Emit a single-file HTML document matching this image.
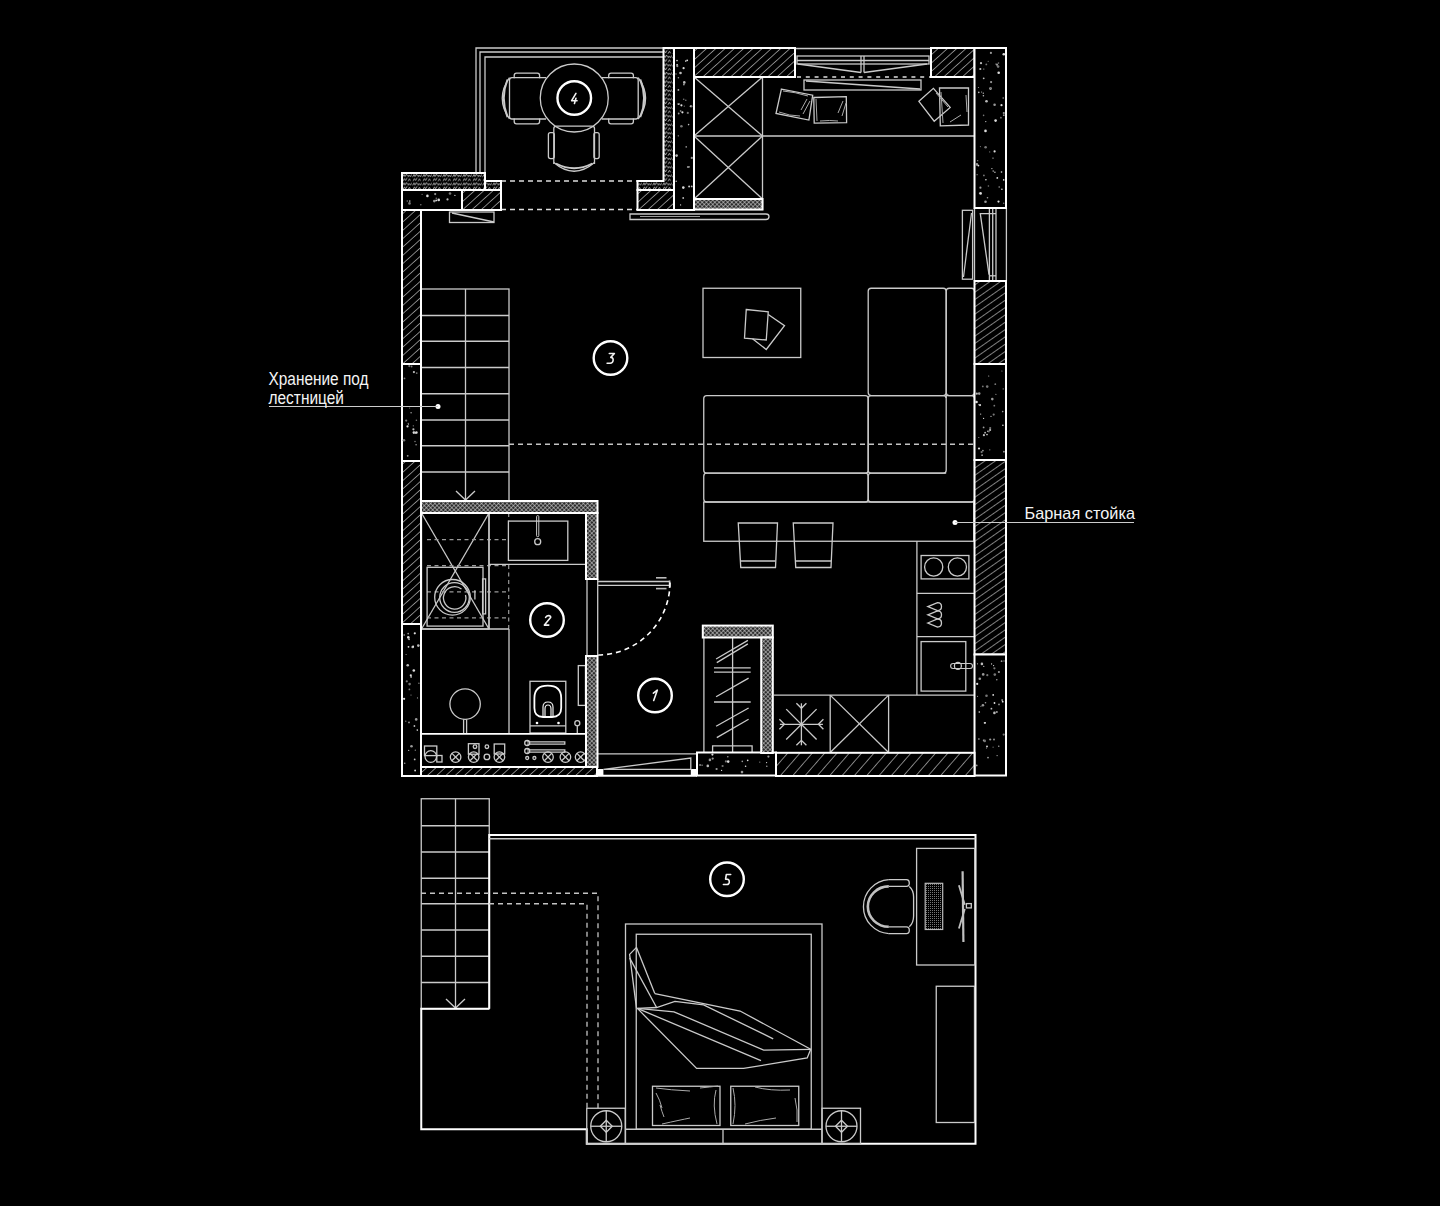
<!DOCTYPE html>
<html><head><meta charset="utf-8"><style>
html,body{margin:0;padding:0;background:#000;width:1440px;height:1206px;overflow:hidden}
svg{display:block}
</style></head><body>
<svg width="1440" height="1206" viewBox="0 0 1440 1206">
<rect width="1440" height="1206" fill="#000"/>
<defs>
<pattern id="hatch" patternUnits="userSpaceOnUse" width="6.2" height="6.2" patternTransform="rotate(48)">
<rect width="6.2" height="6.2" fill="#000"/><line x1="0" y1="0" x2="0" y2="6.2" stroke="#c4c4c4" stroke-width="1.3"/></pattern>
<pattern id="hatchR" patternUnits="userSpaceOnUse" width="6" height="6" patternTransform="rotate(55)">
<rect width="6" height="6" fill="#000"/><line x1="0" y1="0" x2="0" y2="6" stroke="#c4c4c4" stroke-width="1.3"/></pattern>
<pattern id="hatchB" patternUnits="userSpaceOnUse" width="9.3" height="9.3" patternTransform="rotate(41)">
<rect width="9.3" height="9.3" fill="#000"/><line x1="0" y1="0" x2="0" y2="9.3" stroke="#c4c4c4" stroke-width="1.3"/></pattern>
<pattern id="xh" patternUnits="userSpaceOnUse" width="3" height="3" patternTransform="rotate(45)">
<rect width="3" height="3" fill="#2a2a2a"/><path d="M0,0 V3 M0,0 H3" stroke="#e6e6e6" stroke-width="1"/></pattern>
<pattern id="wavy" patternUnits="userSpaceOnUse" width="10" height="8.5" x="402" y="173">
<rect width="10" height="8.5" fill="#000"/><path d="M0.5,4 L2,1.5 L3,3.5 L4.5,1 L5.5,3 M6,4 L7,2 L8.5,3.8 L9.5,1.5 M1,8 L2.5,5.5 L3.5,7.5 L5,5 M6,8.2 L7.5,5.8 L8.5,7.8" stroke="#b0b0b0" stroke-width="0.9" fill="none"/></pattern>
<pattern id="kb" patternUnits="userSpaceOnUse" width="2" height="2">
<rect width="2" height="2" fill="#000"/><rect width="1" height="1" fill="#777"/></pattern>
</defs>
<polyline points="476,173 476,48 664,48" stroke="#cacaca" stroke-width="1.3" fill="none" />
<polyline points="480,173 480,52 664,52" stroke="#cacaca" stroke-width="1.3" fill="none" />
<polyline points="485,173 485,57 664,57" stroke="#cacaca" stroke-width="1.3" fill="none" />
<line x1="501" y1="181" x2="637" y2="181" stroke="#ddd" stroke-width="1.5" stroke-dasharray="5,4" />
<line x1="501" y1="209.5" x2="637" y2="209.5" stroke="#ddd" stroke-width="1.5" stroke-dasharray="5,4" />
<rect x="694" y="77" width="68.5" height="132.5" stroke="#cacaca" stroke-width="1.3" fill="none" />
<line x1="694" y1="136" x2="762.5" y2="136" stroke="#cacaca" stroke-width="1.3" fill="none" />
<line x1="694" y1="77" x2="762.5" y2="136" stroke="#cacaca" stroke-width="1.3" fill="none" />
<line x1="762.5" y1="77" x2="694" y2="136" stroke="#cacaca" stroke-width="1.3" fill="none" />
<line x1="694" y1="136" x2="762.5" y2="199" stroke="#cacaca" stroke-width="1.3" fill="none" />
<line x1="762.5" y1="136" x2="694" y2="199" stroke="#cacaca" stroke-width="1.3" fill="none" />
<line x1="795" y1="48.5" x2="931" y2="48.5" stroke="#cacaca" stroke-width="1.3" fill="none" />
<rect x="797" y="56" width="132" height="8" stroke="#cacaca" stroke-width="1.3" fill="none" />
<line x1="797" y1="60.5" x2="929" y2="60.5" stroke="#cacaca" stroke-width="1.3" fill="none" />
<polyline points="798,64 861,72.5" stroke="#cacaca" stroke-width="1.3" fill="none" />
<polyline points="864,72.5 927,64" stroke="#cacaca" stroke-width="1.3" fill="none" />
<line x1="861" y1="56" x2="861" y2="72.5" stroke="#cacaca" stroke-width="1.3" fill="none" />
<line x1="864" y1="56" x2="864" y2="72.5" stroke="#cacaca" stroke-width="1.3" fill="none" />
<line x1="797" y1="77" x2="931" y2="77" stroke="#ddd" stroke-width="1.4" stroke-dasharray="4,4.8" />
<rect x="804" y="80" width="117" height="10" stroke="#cacaca" stroke-width="1.3" fill="none" />
<line x1="806" y1="81" x2="920" y2="89" stroke="#cacaca" stroke-width="1.3" fill="none" />
<line x1="762.5" y1="136" x2="974.5" y2="136" stroke="#cacaca" stroke-width="1.3" fill="none" />
<path d="M630,214 H766 Q769,214 769,216.5 Q769,219.5 766,219.5 H630 Z" stroke="#cacaca" stroke-width="1.3" fill="none" />
<line x1="640" y1="216.5" x2="700" y2="216.5" stroke="#999" stroke-width="1" />
<rect x="449.5" y="212" width="44.5" height="10.5" stroke="#cacaca" stroke-width="1.3" fill="none" />
<line x1="452" y1="213" x2="494" y2="222" stroke="#cacaca" stroke-width="1.3" fill="none" />
<rect x="962.4" y="210.3" width="10.200000000000045" height="68.89999999999998" stroke="#cacaca" stroke-width="1.3" fill="none" />
<line x1="971.5" y1="213" x2="963.5" y2="277" stroke="#cacaca" stroke-width="1.3" fill="none" />
<line x1="974.5" y1="208" x2="974.5" y2="281" stroke="#cacaca" stroke-width="1.3" fill="none" />
<line x1="1006.4" y1="208" x2="1006.4" y2="281" stroke="#cacaca" stroke-width="1.3" fill="none" />
<polyline points="996,213.7 980.3,213.7 989,274.6" stroke="#cacaca" stroke-width="1.3" fill="none" />
<line x1="989.4" y1="209" x2="989.4" y2="280" stroke="#cacaca" stroke-width="1.3" fill="none" />
<line x1="992.7" y1="209" x2="992.7" y2="280" stroke="#cacaca" stroke-width="1.3" fill="none" />
<line x1="996" y1="209" x2="996" y2="280" stroke="#cacaca" stroke-width="1.3" fill="none" />
<line x1="989.4" y1="275.8" x2="996" y2="275.8" stroke="#cacaca" stroke-width="1.3" fill="none" />
<line x1="597" y1="775.7" x2="697" y2="775.7" stroke="#fff" stroke-width="2" />
<rect x="597" y="769" width="6.399999999999977" height="7" fill="#fff" stroke="none" />
<rect x="690.8" y="769" width="6.2000000000000455" height="7" fill="#fff" stroke="none" />
<polyline points="603.4,769.3 690.8,758.1 690.8,769.3 603.4,769.3" stroke="#cacaca" stroke-width="1.3" fill="none" />
<line x1="597" y1="753.8" x2="697" y2="753.8" stroke="#cacaca" stroke-width="1.3" fill="none" />
<line x1="597.5" y1="581.5" x2="669.6" y2="581.5" stroke="#cacaca" stroke-width="1.3" fill="none" />
<line x1="597.5" y1="585.3" x2="669.6" y2="585.3" stroke="#cacaca" stroke-width="1.3" fill="none" />
<line x1="669.6" y1="580.5" x2="669.6" y2="588" stroke="#cacaca" stroke-width="1.6" />
<line x1="656" y1="577.8" x2="666.5" y2="577.8" stroke="#bbb" stroke-width="1.6" />
<line x1="656" y1="588.6" x2="666.5" y2="588.6" stroke="#bbb" stroke-width="1.6" />
<path d="M670,582.5 A72.5,72.5 0 0 1 597.5,655" stroke="#fff" stroke-width="1.6" fill="none" stroke-dasharray="5,4" />
<line x1="587" y1="579" x2="587" y2="656" stroke="#cacaca" stroke-width="1.3" fill="none" />
<line x1="597.7" y1="579" x2="597.7" y2="656" stroke="#cacaca" stroke-width="1.3" fill="none" />
<rect x="421.5" y="513" width="67.5" height="116" stroke="#cacaca" stroke-width="1.3" fill="none" />
<line x1="421.5" y1="513" x2="489" y2="629" stroke="#cacaca" stroke-width="1.3" fill="none" />
<line x1="489" y1="513" x2="421.5" y2="629" stroke="#cacaca" stroke-width="1.3" fill="none" />
<line x1="427" y1="539.6" x2="507" y2="539.6" stroke="#9a9a9a" stroke-width="1.2" stroke-dasharray="4,3.5" />
<line x1="427" y1="565.7" x2="509" y2="565.7" stroke="#9a9a9a" stroke-width="1.2" stroke-dasharray="4,3.5" />
<line x1="427" y1="591.8" x2="509" y2="591.8" stroke="#9a9a9a" stroke-width="1.2" stroke-dasharray="4,3.5" />
<line x1="427" y1="617.8" x2="509" y2="617.8" stroke="#9a9a9a" stroke-width="1.2" stroke-dasharray="4,3.5" />
<line x1="508.7" y1="565" x2="508.7" y2="629" stroke="#9a9a9a" stroke-width="1.2" stroke-dasharray="4,3.5" />
<line x1="508.7" y1="513" x2="508.7" y2="521" stroke="#9a9a9a" stroke-width="1.2" stroke-dasharray="4,3.5" />
<rect x="427.1" y="567.3" width="55.89999999999998" height="58.80000000000007" stroke="#cacaca" stroke-width="1.3" fill="none" />
<circle cx="452.5" cy="597.3" r="17.8" stroke="#cacaca" stroke-width="1.3" fill="none" />
<circle cx="454.5" cy="597.5" r="14.8" stroke="#cacaca" stroke-width="1.3" fill="none" />
<path d="M461.5,589 A11.2,11.2 0 1 0 465.5,595" stroke="#cacaca" stroke-width="1.3" fill="none" />
<line x1="474.9" y1="590.3" x2="474.9" y2="599.5" stroke="#cacaca" stroke-width="1.3" fill="none" />
<rect x="482.6" y="578.9" width="3.0" height="35.0" stroke="#cacaca" stroke-width="1.3" fill="none" />
<rect x="508.4" y="521.1" width="59.39999999999998" height="39.299999999999955" stroke="#cacaca" stroke-width="1.3" fill="none" />
<rect x="536.6" y="515.6" width="2.199999999999932" height="21.100000000000023" stroke="#cacaca" stroke-width="1" fill="none" rx="1" />
<circle cx="537.7" cy="541.7" r="3" stroke="#cacaca" stroke-width="1.3" fill="none" />
<line x1="489" y1="564.4" x2="586.5" y2="564.4" stroke="#cacaca" stroke-width="1.3" fill="none" />
<line x1="421" y1="629" x2="509" y2="629" stroke="#cacaca" stroke-width="1.3" fill="none" />
<line x1="509" y1="629" x2="509" y2="733" stroke="#cacaca" stroke-width="1.3" fill="none" />
<line x1="489" y1="513" x2="489" y2="629" stroke="#cacaca" stroke-width="1.3" fill="none" />
<circle cx="465.1" cy="704.1" r="15.2" stroke="#cacaca" stroke-width="1.3" fill="none" />
<line x1="463.6" y1="719.3" x2="463.6" y2="733" stroke="#cacaca" stroke-width="1.3" fill="none" />
<line x1="466.6" y1="719.3" x2="466.6" y2="733" stroke="#cacaca" stroke-width="1.3" fill="none" />
<rect x="530" y="681.3" width="35.799999999999955" height="51.700000000000045" stroke="#cacaca" stroke-width="1.3" fill="none" />
<path d="M534.4,698 Q534.4,685.6 547.8,685.6 Q561.2,685.6 561.2,698 V708 Q561.2,717 552,717 H543 Q534.4,717 534.4,708 Z" stroke="#fff" stroke-width="1.8" fill="none" />
<path d="M543,716 V707 Q543,702 548,702 Q553,702 553,707 V716 M545,716 V709 Q545,705 548,705 Q551,705 551,709 V716" stroke="#eee" stroke-width="1.2" fill="none" />
<line x1="530" y1="725.9" x2="565.8" y2="725.9" stroke="#cacaca" stroke-width="1.3" fill="none" />
<circle cx="537" cy="723" r="1.3" fill="#fff"/><circle cx="558.5" cy="723" r="1.3" fill="#fff"/>
<rect x="578.3" y="665.6" width="7.2000000000000455" height="39.799999999999955" stroke="#cacaca" stroke-width="1.3" fill="none" />
<circle cx="577.3" cy="723.2" r="2.5" stroke="#cacaca" stroke-width="1.3" fill="none" />
<line x1="577.3" y1="725.7" x2="577.3" y2="733" stroke="#cacaca" stroke-width="1.3" fill="none" />
<line x1="421" y1="733.8" x2="586.5" y2="733.8" stroke="#fff" stroke-width="1.8" />
<line x1="421" y1="767.2" x2="586.5" y2="767.2" stroke="#fff" stroke-width="1.8" />
<circle cx="455.6" cy="757.1" r="5.3" stroke="#cacaca" stroke-width="1.3" fill="none" />
<line x1="451.90000000000003" y1="753.4" x2="459.3" y2="760.8" stroke="#cacaca" stroke-width="1.3" fill="none" />
<line x1="459.3" y1="753.4" x2="451.90000000000003" y2="760.8" stroke="#cacaca" stroke-width="1.3" fill="none" />
<circle cx="473.7" cy="757.1" r="5.3" stroke="#cacaca" stroke-width="1.3" fill="none" />
<line x1="470.0" y1="753.4" x2="477.4" y2="760.8" stroke="#cacaca" stroke-width="1.3" fill="none" />
<line x1="477.4" y1="753.4" x2="470.0" y2="760.8" stroke="#cacaca" stroke-width="1.3" fill="none" />
<circle cx="499.4" cy="757.1" r="5.3" stroke="#cacaca" stroke-width="1.3" fill="none" />
<line x1="495.7" y1="753.4" x2="503.09999999999997" y2="760.8" stroke="#cacaca" stroke-width="1.3" fill="none" />
<line x1="503.09999999999997" y1="753.4" x2="495.7" y2="760.8" stroke="#cacaca" stroke-width="1.3" fill="none" />
<circle cx="548" cy="757.1" r="5.3" stroke="#cacaca" stroke-width="1.3" fill="none" />
<line x1="544.3" y1="753.4" x2="551.7" y2="760.8" stroke="#cacaca" stroke-width="1.3" fill="none" />
<line x1="551.7" y1="753.4" x2="544.3" y2="760.8" stroke="#cacaca" stroke-width="1.3" fill="none" />
<circle cx="565.4" cy="757.1" r="5.3" stroke="#cacaca" stroke-width="1.3" fill="none" />
<line x1="561.6999999999999" y1="753.4" x2="569.1" y2="760.8" stroke="#cacaca" stroke-width="1.3" fill="none" />
<line x1="569.1" y1="753.4" x2="561.6999999999999" y2="760.8" stroke="#cacaca" stroke-width="1.3" fill="none" />
<circle cx="580.6" cy="757.1" r="5.3" stroke="#cacaca" stroke-width="1.3" fill="none" />
<line x1="576.9" y1="753.4" x2="584.3000000000001" y2="760.8" stroke="#cacaca" stroke-width="1.3" fill="none" />
<line x1="584.3000000000001" y1="753.4" x2="576.9" y2="760.8" stroke="#cacaca" stroke-width="1.3" fill="none" />
<rect x="424.5" y="746" width="12.300000000000011" height="9.600000000000023" stroke="#cacaca" stroke-width="1.3" fill="none" />
<circle cx="430.8" cy="756.5" r="5.8" stroke="#cacaca" stroke-width="1.3" fill="none" />
<rect x="436.8" y="755.5" width="5.199999999999989" height="6.5" stroke="#cacaca" stroke-width="1.3" fill="none" />
<rect x="468.4" y="743.7" width="10.600000000000023" height="10.5" stroke="#cacaca" stroke-width="1.3" fill="none" />
<circle cx="475" cy="746.7" r="1.8" stroke="#cacaca" stroke-width="1.3" fill="none" />
<rect x="494.2" y="744" width="10.5" height="10" stroke="#cacaca" stroke-width="1.3" fill="none" />
<circle cx="486.9" cy="746.7" r="1.8" stroke="#cacaca" stroke-width="1.3" fill="none" />
<circle cx="486.9" cy="756.9" r="2.8" stroke="#cacaca" stroke-width="1.3" fill="none" />
<path d="M527.2,741.8 H564.8 V744.2 H527.2 M527.2,749.8 H564.8 V752.2 H527.2" stroke="#cacaca" stroke-width="1.3" fill="none" />
<circle cx="527.2" cy="743" r="2.5" stroke="#cacaca" stroke-width="1.3" fill="none" />
<circle cx="527.2" cy="751" r="2.5" stroke="#cacaca" stroke-width="1.3" fill="none" />
<circle cx="527.2" cy="758" r="1.5" stroke="#cacaca" stroke-width="1.3" fill="none" />
<circle cx="534.4" cy="758" r="1.5" stroke="#cacaca" stroke-width="1.3" fill="none" />
<rect x="421" y="289" width="88" height="212" stroke="#cacaca" stroke-width="1.3" fill="none" />
<line x1="465.5" y1="289" x2="465.5" y2="500" stroke="#cacaca" stroke-width="1.3" fill="none" />
<line x1="421" y1="315.5" x2="509" y2="315.5" stroke="#cacaca" stroke-width="1.3" fill="none" />
<line x1="421" y1="341.25" x2="509" y2="341.25" stroke="#cacaca" stroke-width="1.3" fill="none" />
<line x1="421" y1="367.5" x2="509" y2="367.5" stroke="#cacaca" stroke-width="1.3" fill="none" />
<line x1="421" y1="393.75" x2="509" y2="393.75" stroke="#cacaca" stroke-width="1.3" fill="none" />
<line x1="421" y1="420" x2="509" y2="420" stroke="#cacaca" stroke-width="1.3" fill="none" />
<line x1="421" y1="445.75" x2="509" y2="445.75" stroke="#cacaca" stroke-width="1.3" fill="none" />
<line x1="421" y1="472" x2="509" y2="472" stroke="#cacaca" stroke-width="1.3" fill="none" />
<polyline points="456,491 465.5,500 475,491" stroke="#cacaca" stroke-width="1.3" fill="none" />
<line x1="509" y1="444.25" x2="974" y2="444.25" stroke="#c4c4c4" stroke-width="1.3" stroke-dasharray="5,4" />
<rect x="703" y="288.25" width="97.75" height="69.25" stroke="#cacaca" stroke-width="1.3" fill="none" />
<polygon points="746.25,309.5 768.25,311.75 766.25,340 744.5,338.25" stroke="#cacaca" stroke-width="1.3" fill="none" />
<polyline points="768.25,314.5 784.5,325.75 766.25,349.5 752.5,338.75" stroke="#cacaca" stroke-width="1.3" fill="none" />
<rect x="868.2" y="288.25" width="78.0" height="107.35000000000002" stroke="#cacaca" stroke-width="1.3" fill="none" rx="3"/>
<rect x="946.2" y="288.25" width="28.299999999999955" height="107.35000000000002" stroke="#cacaca" stroke-width="1.3" fill="none" rx="3"/>
<rect x="703.75" y="395.6" width="164.45000000000005" height="77.59999999999997" stroke="#cacaca" stroke-width="1.3" fill="none" rx="3"/>
<rect x="868.2" y="395.6" width="78.0" height="77.59999999999997" stroke="#cacaca" stroke-width="1.3" fill="none" rx="3"/>
<rect x="703.75" y="473.2" width="164.45000000000005" height="28.80000000000001" stroke="#cacaca" stroke-width="1.3" fill="none" rx="3"/>
<path d="M946.2,398 V395.6 H971.5 Q974.5,395.6 974.5,398.6 V499 Q974.5,502 971.5,502 H871.2 Q868.2,502 868.2,499 V476.2 Q868.2,473.2 871.2,473.2 H946.2" stroke="#cacaca" stroke-width="1.3" fill="none" />
<rect x="703.75" y="502" width="270.0" height="39.25" stroke="#cacaca" stroke-width="1.3" fill="none" />
<polygon points="738.25,523 777.5,523 775.5,567.5 740.75,567.5" stroke="#cacaca" stroke-width="1.3" fill="none" />
<line x1="740.5" y1="561" x2="775.5" y2="561" stroke="#cacaca" stroke-width="1.3" fill="none" />
<polygon points="793.25,523 833,523 831,567.5 795.75,567.5" stroke="#cacaca" stroke-width="1.3" fill="none" />
<line x1="795.5" y1="561" x2="831" y2="561" stroke="#cacaca" stroke-width="1.3" fill="none" />
<line x1="916.9" y1="541" x2="916.9" y2="695.1" stroke="#cacaca" stroke-width="1.3" fill="none" />
<rect x="921.1" y="555.5" width="47.799999999999955" height="23.399999999999977" stroke="#cacaca" stroke-width="1.3" fill="none" />
<circle cx="933.7" cy="567" r="9.1" stroke="#cacaca" stroke-width="1.3" fill="none" />
<circle cx="957.4" cy="567" r="9.1" stroke="#cacaca" stroke-width="1.3" fill="none" />
<line x1="916.9" y1="593.3" x2="974" y2="593.3" stroke="#cacaca" stroke-width="1.3" fill="none" />
<line x1="916.9" y1="636.7" x2="974" y2="636.7" stroke="#cacaca" stroke-width="1.3" fill="none" />
<path d="M927.8,606.6 L937.5,602.6 Q941.5,602.6 941.5,606.6 Q941.5,610.6 937.5,610.6 Z" stroke="#cacaca" stroke-width="1.3" fill="none" />
<path d="M927.8,614.8 L937.5,610.8 Q941.5,610.8 941.5,614.8 Q941.5,618.8 937.5,618.8 Z" stroke="#cacaca" stroke-width="1.3" fill="none" />
<path d="M927.8,623 L937.5,619 Q941.5,619 941.5,623 Q941.5,627 937.5,627 Z" stroke="#cacaca" stroke-width="1.3" fill="none" />
<rect x="921.1" y="641.6" width="44.69999999999993" height="49.5" stroke="#cacaca" stroke-width="1.3" fill="none" />
<circle cx="957.9" cy="665.9" r="3.5" stroke="#cacaca" stroke-width="1.3" fill="none" />
<rect x="950.6" y="663.5" width="21.899999999999977" height="5.0" stroke="#cacaca" stroke-width="1.1" fill="none" rx="2.5" />
<line x1="773.75" y1="695.1" x2="974" y2="695.1" stroke="#cacaca" stroke-width="1.3" fill="none" />
<line x1="830.2" y1="695.1" x2="830.2" y2="752.5" stroke="#cacaca" stroke-width="1.3" fill="none" />
<line x1="888.6" y1="695.1" x2="888.6" y2="752.5" stroke="#cacaca" stroke-width="1.3" fill="none" />
<line x1="830.2" y1="695.1" x2="888.6" y2="752.5" stroke="#cacaca" stroke-width="1.3" fill="none" />
<line x1="888.6" y1="695.1" x2="830.2" y2="752.5" stroke="#cacaca" stroke-width="1.3" fill="none" />
<line x1="779.9" y1="724.3" x2="822.9" y2="724.3" stroke="#cacaca" stroke-width="1.3" fill="none" />
<line x1="801.4" y1="703.3" x2="801.4" y2="745.3" stroke="#cacaca" stroke-width="1.3" fill="none" />
<line x1="786.1972042044893" y1="709.0972042044892" x2="816.6027957955107" y2="739.5027957955107" stroke="#cacaca" stroke-width="1.3" fill="none" />
<line x1="816.6027957955107" y1="709.0972042044892" x2="786.1972042044893" y2="739.5027957955107" stroke="#cacaca" stroke-width="1.3" fill="none" />
<polyline points="823.4,729.3 818.4,724.3 823.4,719.3" stroke="#cacaca" stroke-width="1.3" fill="none" />
<polyline points="779.4,719.3 784.4,724.3 779.4,729.3" stroke="#cacaca" stroke-width="1.3" fill="none" />
<polyline points="796.4,745.3 801.4,740.3 806.4,745.3" stroke="#cacaca" stroke-width="1.3" fill="none" />
<polyline points="806.4,703.3 801.4,708.3 796.4,703.3" stroke="#cacaca" stroke-width="1.3" fill="none" />
<line x1="703.9" y1="637.5" x2="703.9" y2="752.5" stroke="#cacaca" stroke-width="1.3" fill="none" />
<line x1="732.6" y1="637.5" x2="732.6" y2="752.5" stroke="#cacaca" stroke-width="1.3" fill="none" />
<line x1="716.1" y1="659" x2="747.9" y2="640.4" stroke="#cacaca" stroke-width="1.3" fill="none" />
<line x1="716.8" y1="662.6" x2="747.9" y2="643.9" stroke="#cacaca" stroke-width="1.3" fill="none" />
<line x1="716.1" y1="696.7" x2="748.6" y2="678.1" stroke="#cacaca" stroke-width="1.3" fill="none" />
<line x1="716.1" y1="726.3" x2="748.6" y2="708" stroke="#cacaca" stroke-width="1.3" fill="none" />
<line x1="716.8" y1="737.6" x2="748.6" y2="719.3" stroke="#cacaca" stroke-width="1.3" fill="none" />
<line x1="714" y1="667.9" x2="750.7" y2="667.9" stroke="#cacaca" stroke-width="1.3" fill="none" />
<line x1="714" y1="672.1" x2="750.7" y2="672.1" stroke="#cacaca" stroke-width="1.3" fill="none" />
<line x1="714" y1="702" x2="750.7" y2="702" stroke="#cacaca" stroke-width="1.3" fill="none" />
<path d="M712.6,752.5 V745.8 H752.1 V752.5" stroke="#cacaca" stroke-width="1.3" fill="none" />
<rect x="421.25" y="798.75" width="68.0" height="210.0" stroke="#cacaca" stroke-width="1.3" fill="none" />
<line x1="455.5" y1="798.75" x2="455.5" y2="1008" stroke="#cacaca" stroke-width="1.3" fill="none" />
<line x1="421.25" y1="825.75" x2="489.25" y2="825.75" stroke="#cacaca" stroke-width="1.3" fill="none" />
<line x1="421.25" y1="852" x2="489.25" y2="852" stroke="#cacaca" stroke-width="1.3" fill="none" />
<line x1="421.25" y1="878.25" x2="489.25" y2="878.25" stroke="#cacaca" stroke-width="1.3" fill="none" />
<line x1="421.25" y1="903.75" x2="489.25" y2="903.75" stroke="#cacaca" stroke-width="1.3" fill="none" />
<line x1="421.25" y1="930" x2="489.25" y2="930" stroke="#cacaca" stroke-width="1.3" fill="none" />
<line x1="421.25" y1="956.25" x2="489.25" y2="956.25" stroke="#cacaca" stroke-width="1.3" fill="none" />
<line x1="421.25" y1="982.5" x2="489.25" y2="982.5" stroke="#cacaca" stroke-width="1.3" fill="none" />
<polyline points="446,999 455.5,1008 465,999" stroke="#cacaca" stroke-width="1.3" fill="none" />
<polyline points="489.25,1008.75 489.25,835 975.5,835 975.5,1143.75 586.75,1143.75 586.75,1129.25 421.25,1129.25 421.25,1008.75 489.25,1008.75" stroke="#fff" stroke-width="2" fill="none" />
<line x1="489.25" y1="838.75" x2="975.5" y2="838.75" stroke="#cacaca" stroke-width="1.3" fill="none" />
<polyline points="421,893.25 598,893.25 598,1108" stroke="#c4c4c4" stroke-width="1.3" fill="none" stroke-dasharray="5,4" />
<polyline points="489,903.75 587,903.75 587,1108" stroke="#c4c4c4" stroke-width="1.3" fill="none" stroke-dasharray="5,4" />
<rect x="625.5" y="924" width="196.5" height="219.75" stroke="#cacaca" stroke-width="1.3" fill="none" />
<rect x="636.25" y="934.25" width="175.0" height="195.0" stroke="#cacaca" stroke-width="1.3" fill="none" />
<line x1="625.5" y1="1129.25" x2="822" y2="1129.25" stroke="#cacaca" stroke-width="1.3" fill="none" />
<line x1="723" y1="1129.25" x2="723" y2="1143.75" stroke="#cacaca" stroke-width="1.3" fill="none" />
<rect x="586.75" y="1108.25" width="38.5" height="35.5" stroke="#cacaca" stroke-width="1.3" fill="none" />
<circle cx="606.25" cy="1126.25" r="15.5" stroke="#cacaca" stroke-width="1.3" fill="none" />
<line x1="590.75" y1="1126.25" x2="621.75" y2="1126.25" stroke="#cacaca" stroke-width="1.3" fill="none" />
<line x1="606.25" y1="1110.75" x2="606.25" y2="1141.75" stroke="#cacaca" stroke-width="1.3" fill="none" />
<polygon points="600.25,1126.25 606.25,1120.25 612.25,1126.25 606.25,1132.25" stroke="#cacaca" stroke-width="1.3" fill="none" />
<rect x="822" y="1108.25" width="38.5" height="35.5" stroke="#cacaca" stroke-width="1.3" fill="none" />
<circle cx="841.5" cy="1126.25" r="15.5" stroke="#cacaca" stroke-width="1.3" fill="none" />
<line x1="826.0" y1="1126.25" x2="857.0" y2="1126.25" stroke="#cacaca" stroke-width="1.3" fill="none" />
<line x1="841.5" y1="1110.75" x2="841.5" y2="1141.75" stroke="#cacaca" stroke-width="1.3" fill="none" />
<polygon points="835.5,1126.25 841.5,1120.25 847.5,1126.25 841.5,1132.25" stroke="#cacaca" stroke-width="1.3" fill="none" />
<rect x="652.5" y="1086.25" width="67.5" height="39.25" stroke="#cacaca" stroke-width="1.3" fill="none" />
<rect x="730.75" y="1086.25" width="68.0" height="39.25" stroke="#cacaca" stroke-width="1.3" fill="none" />
<polyline points="636.5,947.4 629.6,954.4 636.5,1008.4" stroke="#cacaca" stroke-width="1.3" fill="none" />
<line x1="636.5" y1="947.4" x2="654.8" y2="993.6" stroke="#cacaca" stroke-width="1.3" fill="none" />
<line x1="629.6" y1="957.9" x2="656.6" y2="1007.5" stroke="#cacaca" stroke-width="1.3" fill="none" />
<polyline points="654.8,993.6 740.1,1011 810.7,1049.3 807.2,1058 743.6,1068.4 696.6,1068.4 637.4,1008.4" stroke="#cacaca" stroke-width="1.3" fill="none" />
<polyline points="637.4,1008.4 656.6,1007.5 674.9,1001.4 703.6,1004.9 773.2,1038.8" stroke="#cacaca" stroke-width="1.3" fill="none" />
<polyline points="637.4,1008.4 674,1011.8 763.7,1050.1 810.7,1049.3" stroke="#cacaca" stroke-width="1.3" fill="none" />
<line x1="637.4" y1="1008.4" x2="761" y2="1060.6" stroke="#cacaca" stroke-width="1.3" fill="none" />
<path d="M656,1088 Q670,1090 690,1091 M700,1088 Q710,1087 718,1086 M656,1093 Q660,1100 662,1108 M660,1105 Q662,1112 664,1117 M662,1124 Q680,1120 690,1118 M716,1090 Q712,1105 717,1124" stroke="#aaa" stroke-width="1" fill="none" />
<path d="M733,1088 Q737,1105 733,1124 M755,1087 Q770,1091 790,1090 M745,1124 Q760,1120 776,1118 M795,1098 Q798,1110 797,1122" stroke="#aaa" stroke-width="1" fill="none" />
<rect x="916.6" y="848.4" width="58.19999999999993" height="116.60000000000002" stroke="#cacaca" stroke-width="1.3" fill="none" />
<rect x="925.2" y="883.3" width="17.5" height="46.200000000000045" stroke="#bbb" stroke-width="1.2" fill="url(#kb)" />
<path d="M962.6,871.3 L963.4,941.9" stroke="#c0c0c0" stroke-width="2.2" fill="none" />
<path d="M958.9,885.3 L964.8,904.7 M964.8,909 L958.9,928.4" stroke="#c0c0c0" stroke-width="1.8" fill="none" />
<rect x="966.4" y="903.6" width="4.899999999999977" height="4.2999999999999545" stroke="#cacaca" stroke-width="1.3" fill="none" />
<path d="M888.8,879.7 A27,27 0 0 0 888.8,933.6" stroke="#cacaca" stroke-width="1.3" fill="none" />
<path d="M888.8,886.4 A21,20.2 0 0 0 888.8,926.8" stroke="#c0c0c0" stroke-width="2.6" fill="none" />
<path d="M888.8,879.7 H906.5 Q909.3,879.7 909.3,883 Q909.3,886.4 906.5,886.4 H888.8" stroke="#cacaca" stroke-width="1.3" fill="none" />
<path d="M888.8,933.6 H906.5 Q909.3,933.6 909.3,930.2 Q909.3,926.8 906.5,926.8 H888.8" stroke="#cacaca" stroke-width="1.3" fill="none" />
<path d="M909.3,886.4 Q913.6,890 913.6,897 V916 Q913.6,923 909.3,926.8" stroke="#cacaca" stroke-width="1.3" fill="none" />
<rect x="936.25" y="986.25" width="38.25" height="136.25" stroke="#cacaca" stroke-width="1.3" fill="none" />
<circle cx="574.25" cy="98" r="34" stroke="#cacaca" stroke-width="1.3" fill="none" />
<path d="M514.2,78.3 V75.5 Q514.2,73.2 516.5,73.2 H537.3 Q539.6,73.2 539.6,75.5 V78.3" stroke="#cacaca" stroke-width="1.3" fill="none" />
<path d="M514.2,118.4 V121.5 Q514.2,123.8 516.5,123.8 H537.3 Q539.6,123.8 539.6,121.5 V118.4" stroke="#cacaca" stroke-width="1.3" fill="none" />
<path d="M546.1,77.7 H512 Q509.5,77.7 509.5,80.2 V116.5 Q509.5,119 512,119 H546.1" stroke="#cacaca" stroke-width="1.3" fill="none" />
<path d="M509.5,77.7 Q495,98.3 509.5,119" stroke="#cacaca" stroke-width="1.3" fill="none" />
<path d="M507.5,79.5 Q500,98.3 507.5,117.2" stroke="#cacaca" stroke-width="2" fill="none" />
<path d="M608.7,78.3 V75.5 Q608.7,73.2 611,73.2 H631.1 Q633.4,73.2 633.4,75.5 V78.3" stroke="#cacaca" stroke-width="1.3" fill="none" />
<path d="M608.7,118.4 V121.5 Q608.7,123.8 611,123.8 H631.1 Q633.4,123.8 633.4,121.5 V118.4" stroke="#cacaca" stroke-width="1.3" fill="none" />
<path d="M601.6,77.7 H635.7 Q638.2,77.7 638.2,80.2 V116.5 Q638.2,119 635.7,119 H601.6" stroke="#cacaca" stroke-width="1.3" fill="none" />
<path d="M638.2,77.7 Q653,98.3 638.2,119" stroke="#cacaca" stroke-width="1.3" fill="none" />
<path d="M640.2,79.5 Q648,98.3 640.2,117.2" stroke="#cacaca" stroke-width="2" fill="none" />
<path d="M553.8,163.9 V128.6 Q553.8,126.1 556.3,126.1 H592 Q594.5,126.1 594.5,128.6 V163.9" stroke="#cacaca" stroke-width="1.3" fill="none" />
<rect x="548.4" y="132.6" width="5.899999999999977" height="26.0" stroke="#cacaca" stroke-width="1.3" fill="none" rx="2" />
<rect x="593.9" y="132.6" width="5.300000000000068" height="26.0" stroke="#cacaca" stroke-width="1.3" fill="none" rx="2" />
<path d="M553.8,162.5 Q574.1,180 594.5,162.5" stroke="#cacaca" stroke-width="1.3" fill="none" />
<path d="M556,163.5 Q574.1,173 592.3,163.5" stroke="#cacaca" stroke-width="1.8" fill="none" />
<polygon points="781.4,89.1 812.7,95.2 808.9,120.1 776,113.5" stroke="#cacaca" stroke-width="1.3" fill="none" />
<polygon points="813.8,97.5 846.3,96.7 846.6,122.7 814.2,123.2" stroke="#cacaca" stroke-width="1.3" fill="none" />
<polygon points="918.9,101.3 933.4,88.3 950.2,107.4 934.2,121.2" stroke="#cacaca" stroke-width="1.3" fill="none" />
<polygon points="939.5,88 968.5,88 968.5,125 940.3,125.8" stroke="#cacaca" stroke-width="1.3" fill="none" />
<path d="M783,91 Q795,92 808,96 M810,101 L803,114 M807,99 L801,110 M779,112 Q790,116 800,116 M816,99 L817,121 M843,101 L838,113 M846,103 L842,116 M820,121 Q830,120 838,121 M941,92 L943,123 M966,95 L967,112 M950,122 L961,115 M936,93 L948,107" stroke="#aaa" stroke-width="1" fill="none" />
<rect x="402" y="173" width="83" height="17" fill="url(#wavy)" stroke="#fff" stroke-width="2"/>
<rect x="485" y="181" width="16" height="9" fill="url(#wavy)" stroke="#fff" stroke-width="2"/>
<rect x="402" y="190" width="60" height="20" fill="#000" stroke="#fff" stroke-width="2"/>
<circle cx="422.1" cy="194.4" r="0.6" fill="#777"/>
<circle cx="450.0" cy="193.5" r="1.3" fill="#777"/>
<circle cx="454.9" cy="195.4" r="0.6" fill="#ddd"/>
<circle cx="427.4" cy="195.9" r="1.3" fill="#ddd"/>
<circle cx="407.3" cy="201.0" r="0.8" fill="#777"/>
<circle cx="436.3" cy="198.3" r="0.8" fill="#777"/>
<circle cx="435.2" cy="194.1" r="1.1" fill="#999"/>
<circle cx="434.3" cy="201.1" r="1.3" fill="#999"/>
<circle cx="409.8" cy="201.1" r="0.8" fill="#bbb"/>
<circle cx="409.5" cy="203.4" r="1.3" fill="#777"/>
<circle cx="438.7" cy="199.9" r="1.3" fill="#ddd"/>
<circle cx="447.5" cy="199.4" r="1.1" fill="#bbb"/>
<circle cx="420.8" cy="204.7" r="0.8" fill="#777"/>
<circle cx="436.2" cy="200.4" r="0.9" fill="#ddd"/>
<rect x="462" y="190" width="39" height="20" fill="url(#hatch)" stroke="#fff" stroke-width="2"/>
<path d="M637.5,181 H663.5 V48 H674.5 V190 H637.5 Z" fill="url(#wavy)" stroke="#fff" stroke-width="2"/>
<rect x="637.5" y="190" width="37.0" height="20" fill="url(#hatch)" stroke="#fff" stroke-width="2"/>
<rect x="674" y="48" width="20" height="162" fill="#000" stroke="#fff" stroke-width="2"/>
<circle cx="680.6" cy="204.9" r="0.6" fill="#ddd"/>
<circle cx="678.6" cy="104.0" r="1.1" fill="#ddd"/>
<circle cx="676.6" cy="155.6" r="1.3" fill="#bbb"/>
<circle cx="681.4" cy="105.3" r="1.1" fill="#ddd"/>
<circle cx="677.1" cy="64.8" r="0.9" fill="#ddd"/>
<circle cx="687.2" cy="60.3" r="0.9" fill="#ddd"/>
<circle cx="680.6" cy="111.0" r="0.9" fill="#777"/>
<circle cx="691.1" cy="106.2" r="1.3" fill="#777"/>
<circle cx="683.9" cy="84.5" r="0.9" fill="#999"/>
<circle cx="687.8" cy="112.9" r="1.1" fill="#777"/>
<circle cx="678.7" cy="113.5" r="0.9" fill="#999"/>
<circle cx="689.1" cy="186.5" r="0.9" fill="#ddd"/>
<circle cx="691.8" cy="157.9" r="1.1" fill="#999"/>
<circle cx="678.4" cy="77.8" r="0.8" fill="#999"/>
<circle cx="676.2" cy="181.3" r="0.8" fill="#bbb"/>
<circle cx="680.5" cy="73.0" r="1.3" fill="#bbb"/>
<circle cx="685.8" cy="100.3" r="0.8" fill="#777"/>
<circle cx="683.3" cy="187.6" r="1.3" fill="#ddd"/>
<circle cx="682.4" cy="112.3" r="1.1" fill="#ddd"/>
<circle cx="677.0" cy="60.6" r="0.8" fill="#ddd"/>
<circle cx="678.6" cy="103.7" r="0.6" fill="#777"/>
<circle cx="676.0" cy="73.9" r="0.6" fill="#bbb"/>
<circle cx="685.8" cy="61.1" r="0.8" fill="#ddd"/>
<circle cx="678.4" cy="89.9" r="0.9" fill="#bbb"/>
<circle cx="683.6" cy="68.2" r="1.1" fill="#ddd"/>
<circle cx="683.7" cy="99.3" r="0.8" fill="#777"/>
<circle cx="688.0" cy="167.0" r="1.1" fill="#999"/>
<circle cx="684.3" cy="82.4" r="1.3" fill="#bbb"/>
<circle cx="678.3" cy="135.8" r="0.6" fill="#bbb"/>
<circle cx="691.7" cy="186.4" r="0.9" fill="#bbb"/>
<circle cx="690.5" cy="106.2" r="0.8" fill="#bbb"/>
<circle cx="686.2" cy="146.9" r="0.8" fill="#999"/>
<circle cx="689.1" cy="166.9" r="0.8" fill="#999"/>
<circle cx="684.3" cy="106.2" r="0.6" fill="#777"/>
<circle cx="688.6" cy="124.6" r="0.8" fill="#bbb"/>
<circle cx="683.2" cy="198.0" r="0.9" fill="#bbb"/>
<circle cx="677.3" cy="66.1" r="1.1" fill="#999"/>
<circle cx="681.4" cy="126.3" r="1.3" fill="#777"/>
<rect x="694" y="48" width="101" height="29" fill="url(#hatch)" stroke="#fff" stroke-width="2"/>
<rect x="931" y="48" width="43.5" height="29" fill="url(#hatch)" stroke="#fff" stroke-width="2"/>
<rect x="974.5" y="48" width="31.5" height="160" fill="#000" stroke="#fff" stroke-width="2"/>
<circle cx="989.7" cy="151.9" r="0.6" fill="#777"/>
<circle cx="1001.5" cy="172.0" r="0.8" fill="#ddd"/>
<circle cx="1000.9" cy="117.7" r="0.9" fill="#777"/>
<circle cx="998.5" cy="201.6" r="1.1" fill="#ddd"/>
<circle cx="987.5" cy="197.7" r="0.8" fill="#999"/>
<circle cx="1003.8" cy="54.3" r="1.3" fill="#ddd"/>
<circle cx="998.7" cy="72.8" r="1.3" fill="#ddd"/>
<circle cx="994.6" cy="104.7" r="1.3" fill="#999"/>
<circle cx="977.1" cy="174.7" r="0.6" fill="#999"/>
<circle cx="988.4" cy="186.0" r="0.8" fill="#777"/>
<circle cx="983.4" cy="95.7" r="0.8" fill="#bbb"/>
<circle cx="983.6" cy="115.4" r="0.8" fill="#777"/>
<circle cx="1001.5" cy="105.2" r="1.1" fill="#ddd"/>
<circle cx="999.2" cy="187.0" r="0.8" fill="#999"/>
<circle cx="990.9" cy="52.9" r="1.1" fill="#999"/>
<circle cx="993.2" cy="171.1" r="0.8" fill="#999"/>
<circle cx="980.4" cy="146.6" r="0.6" fill="#777"/>
<circle cx="985.5" cy="130.9" r="1.3" fill="#ddd"/>
<circle cx="998.1" cy="66.6" r="1.3" fill="#777"/>
<circle cx="983.3" cy="93.2" r="0.6" fill="#ddd"/>
<circle cx="991.9" cy="168.6" r="0.6" fill="#ddd"/>
<circle cx="985.5" cy="201.8" r="1.3" fill="#999"/>
<circle cx="995.6" cy="120.6" r="1.3" fill="#ddd"/>
<circle cx="990.5" cy="88.6" r="1.3" fill="#bbb"/>
<circle cx="1001.9" cy="189.3" r="0.8" fill="#ddd"/>
<circle cx="980.3" cy="69.0" r="1.1" fill="#bbb"/>
<circle cx="978.5" cy="87.5" r="0.6" fill="#999"/>
<circle cx="994.9" cy="172.3" r="0.8" fill="#bbb"/>
<circle cx="980.4" cy="187.7" r="1.1" fill="#999"/>
<circle cx="997.0" cy="64.7" r="1.1" fill="#999"/>
<circle cx="1003.7" cy="179.9" r="0.8" fill="#ddd"/>
<circle cx="1003.8" cy="113.0" r="1.1" fill="#999"/>
<circle cx="986.3" cy="64.4" r="0.9" fill="#777"/>
<circle cx="985.8" cy="121.6" r="0.6" fill="#ddd"/>
<circle cx="985.6" cy="147.3" r="1.3" fill="#777"/>
<circle cx="979.6" cy="193.3" r="0.8" fill="#777"/>
<circle cx="978.8" cy="92.4" r="0.8" fill="#bbb"/>
<circle cx="997.3" cy="177.9" r="0.9" fill="#ddd"/>
<circle cx="980.6" cy="193.4" r="1.3" fill="#ddd"/>
<circle cx="995.8" cy="64.0" r="0.6" fill="#999"/>
<circle cx="988.2" cy="61.3" r="0.6" fill="#777"/>
<circle cx="998.5" cy="63.1" r="0.8" fill="#777"/>
<circle cx="983.8" cy="69.0" r="0.6" fill="#bbb"/>
<circle cx="1003.8" cy="115.2" r="0.9" fill="#999"/>
<circle cx="977.7" cy="160.7" r="0.6" fill="#999"/>
<circle cx="983.7" cy="78.3" r="0.9" fill="#bbb"/>
<circle cx="991.1" cy="82.1" r="1.1" fill="#999"/>
<circle cx="983.9" cy="175.4" r="0.9" fill="#777"/>
<circle cx="976.9" cy="164.4" r="1.3" fill="#999"/>
<circle cx="990.6" cy="88.3" r="1.1" fill="#777"/>
<circle cx="994.6" cy="151.4" r="1.1" fill="#ddd"/>
<circle cx="1003.2" cy="98.0" r="0.8" fill="#999"/>
<circle cx="985.9" cy="179.8" r="0.8" fill="#ddd"/>
<circle cx="1003.7" cy="203.2" r="0.8" fill="#777"/>
<circle cx="978.4" cy="165.6" r="0.9" fill="#ddd"/>
<circle cx="981.0" cy="63.2" r="1.1" fill="#bbb"/>
<circle cx="993.0" cy="158.1" r="0.6" fill="#ddd"/>
<circle cx="981.6" cy="92.0" r="0.6" fill="#bbb"/>
<circle cx="986.5" cy="101.3" r="1.3" fill="#bbb"/>
<rect x="694" y="199" width="68.5" height="10.5" fill="url(#xh)" stroke="#fff" stroke-width="2"/>
<rect x="402" y="210" width="19" height="154" fill="url(#hatch)" stroke="#fff" stroke-width="2"/>
<rect x="402" y="364" width="19" height="97" fill="#000" stroke="#fff" stroke-width="2"/>
<circle cx="407.7" cy="455.8" r="0.9" fill="#999"/>
<circle cx="409.3" cy="366.1" r="1.1" fill="#777"/>
<circle cx="411.1" cy="412.8" r="0.8" fill="#999"/>
<circle cx="411.6" cy="366.5" r="0.9" fill="#777"/>
<circle cx="406.2" cy="420.6" r="1.1" fill="#777"/>
<circle cx="408.5" cy="424.6" r="0.6" fill="#999"/>
<circle cx="413.9" cy="432.6" r="1.3" fill="#ddd"/>
<circle cx="415.5" cy="433.0" r="1.1" fill="#999"/>
<circle cx="408.3" cy="423.5" r="0.8" fill="#777"/>
<circle cx="416.4" cy="432.5" r="1.3" fill="#ddd"/>
<circle cx="415.0" cy="441.5" r="0.8" fill="#777"/>
<circle cx="416.4" cy="420.3" r="0.8" fill="#777"/>
<circle cx="404.5" cy="378.4" r="0.9" fill="#777"/>
<circle cx="409.6" cy="408.0" r="0.6" fill="#777"/>
<circle cx="413.4" cy="429.3" r="1.1" fill="#bbb"/>
<circle cx="404.0" cy="440.2" r="1.3" fill="#777"/>
<circle cx="413.9" cy="372.1" r="1.1" fill="#bbb"/>
<circle cx="416.1" cy="444.7" r="0.8" fill="#999"/>
<circle cx="407.5" cy="426.4" r="1.1" fill="#ddd"/>
<circle cx="416.7" cy="373.1" r="0.9" fill="#777"/>
<circle cx="413.3" cy="425.8" r="0.6" fill="#999"/>
<rect x="402" y="461" width="19" height="163" fill="url(#hatch)" stroke="#fff" stroke-width="2"/>
<rect x="402" y="624" width="19" height="152" fill="#000" stroke="#fff" stroke-width="2"/>
<circle cx="409.0" cy="722.4" r="0.9" fill="#999"/>
<circle cx="404.2" cy="635.0" r="0.9" fill="#777"/>
<circle cx="414.4" cy="726.0" r="0.9" fill="#bbb"/>
<circle cx="411.0" cy="695.0" r="0.6" fill="#999"/>
<circle cx="408.7" cy="638.7" r="1.1" fill="#777"/>
<circle cx="408.3" cy="637.3" r="1.3" fill="#ddd"/>
<circle cx="418.9" cy="683.3" r="0.8" fill="#777"/>
<circle cx="412.7" cy="647.0" r="1.3" fill="#bbb"/>
<circle cx="418.3" cy="645.6" r="1.3" fill="#bbb"/>
<circle cx="417.3" cy="730.1" r="0.8" fill="#ddd"/>
<circle cx="417.5" cy="697.9" r="0.6" fill="#999"/>
<circle cx="404.1" cy="698.8" r="1.1" fill="#ddd"/>
<circle cx="408.5" cy="646.8" r="0.9" fill="#ddd"/>
<circle cx="408.7" cy="750.4" r="0.6" fill="#bbb"/>
<circle cx="415.3" cy="750.2" r="0.6" fill="#999"/>
<circle cx="414.7" cy="759.4" r="0.9" fill="#bbb"/>
<circle cx="409.6" cy="684.1" r="1.3" fill="#777"/>
<circle cx="409.4" cy="689.4" r="0.9" fill="#777"/>
<circle cx="408.2" cy="633.6" r="0.9" fill="#999"/>
<circle cx="407.7" cy="665.3" r="1.3" fill="#bbb"/>
<circle cx="406.8" cy="681.3" r="1.1" fill="#777"/>
<circle cx="416.2" cy="719.4" r="1.3" fill="#999"/>
<circle cx="414.8" cy="633.3" r="1.1" fill="#ddd"/>
<circle cx="413.2" cy="646.5" r="0.9" fill="#ddd"/>
<circle cx="404.7" cy="763.2" r="0.8" fill="#999"/>
<circle cx="411.1" cy="676.9" r="0.9" fill="#bbb"/>
<circle cx="415.1" cy="770.5" r="0.9" fill="#ddd"/>
<circle cx="413.8" cy="670.5" r="1.3" fill="#ddd"/>
<circle cx="405.8" cy="721.2" r="0.6" fill="#999"/>
<circle cx="411.5" cy="746.2" r="1.3" fill="#999"/>
<circle cx="410.8" cy="675.3" r="1.1" fill="#ddd"/>
<circle cx="406.1" cy="654.5" r="0.6" fill="#999"/>
<circle cx="409.1" cy="639.5" r="0.8" fill="#bbb"/>
<rect x="974.5" y="281" width="31.5" height="83" fill="url(#hatchR)" stroke="#fff" stroke-width="2"/>
<rect x="974.5" y="364" width="31.5" height="96" fill="#000" stroke="#fff" stroke-width="2"/>
<circle cx="983.6" cy="418.4" r="0.6" fill="#ddd"/>
<circle cx="987.0" cy="434.6" r="0.8" fill="#ddd"/>
<circle cx="983.9" cy="435.2" r="1.1" fill="#bbb"/>
<circle cx="992.3" cy="399.1" r="1.3" fill="#999"/>
<circle cx="979.0" cy="448.5" r="1.1" fill="#ddd"/>
<circle cx="994.3" cy="405.7" r="0.9" fill="#777"/>
<circle cx="980.0" cy="405.1" r="1.1" fill="#ddd"/>
<circle cx="976.5" cy="402.0" r="1.3" fill="#ddd"/>
<circle cx="1003.2" cy="388.9" r="0.6" fill="#999"/>
<circle cx="980.7" cy="414.1" r="0.6" fill="#ddd"/>
<circle cx="978.8" cy="437.5" r="0.6" fill="#999"/>
<circle cx="982.9" cy="450.6" r="0.9" fill="#999"/>
<circle cx="993.7" cy="414.6" r="1.1" fill="#777"/>
<circle cx="979.2" cy="393.6" r="1.3" fill="#999"/>
<circle cx="987.2" cy="386.6" r="1.3" fill="#777"/>
<circle cx="976.8" cy="393.7" r="1.1" fill="#bbb"/>
<circle cx="1002.9" cy="425.3" r="0.8" fill="#ddd"/>
<circle cx="991.0" cy="416.3" r="0.6" fill="#ddd"/>
<circle cx="995.9" cy="394.3" r="0.6" fill="#999"/>
<circle cx="990.2" cy="428.1" r="1.1" fill="#777"/>
<circle cx="983.6" cy="427.4" r="0.9" fill="#999"/>
<circle cx="990.1" cy="430.0" r="1.1" fill="#bbb"/>
<circle cx="995.3" cy="384.2" r="0.9" fill="#777"/>
<circle cx="982.1" cy="455.2" r="0.9" fill="#999"/>
<circle cx="982.8" cy="386.4" r="0.9" fill="#777"/>
<circle cx="1002.7" cy="411.6" r="0.8" fill="#999"/>
<circle cx="989.8" cy="449.8" r="0.6" fill="#999"/>
<circle cx="1001.9" cy="371.0" r="0.6" fill="#999"/>
<circle cx="987.9" cy="431.3" r="0.8" fill="#ddd"/>
<circle cx="988.9" cy="431.5" r="0.9" fill="#777"/>
<circle cx="1003.9" cy="451.7" r="0.9" fill="#999"/>
<circle cx="981.6" cy="452.1" r="1.1" fill="#777"/>
<circle cx="985.1" cy="432.7" r="0.9" fill="#bbb"/>
<circle cx="988.7" cy="376.0" r="0.6" fill="#bbb"/>
<circle cx="978.7" cy="404.7" r="0.6" fill="#999"/>
<rect x="974.5" y="460" width="31.5" height="194.5" fill="url(#hatchR)" stroke="#fff" stroke-width="2"/>
<rect x="974.5" y="654.5" width="31.5" height="121.0" fill="#000" stroke="#fff" stroke-width="2"/>
<circle cx="987.0" cy="746.4" r="0.9" fill="#ddd"/>
<circle cx="978.9" cy="739.0" r="0.8" fill="#bbb"/>
<circle cx="991.4" cy="708.7" r="0.9" fill="#bbb"/>
<circle cx="996.8" cy="712.0" r="1.1" fill="#999"/>
<circle cx="998.8" cy="746.2" r="0.6" fill="#ddd"/>
<circle cx="977.5" cy="663.8" r="0.6" fill="#bbb"/>
<circle cx="981.9" cy="663.9" r="1.3" fill="#bbb"/>
<circle cx="986.5" cy="695.7" r="1.3" fill="#777"/>
<circle cx="983.7" cy="740.3" r="0.9" fill="#bbb"/>
<circle cx="984.7" cy="740.9" r="1.3" fill="#777"/>
<circle cx="977.2" cy="683.9" r="1.1" fill="#ddd"/>
<circle cx="1002.7" cy="701.7" r="0.9" fill="#ddd"/>
<circle cx="998.9" cy="672.0" r="1.1" fill="#999"/>
<circle cx="976.7" cy="765.4" r="0.9" fill="#999"/>
<circle cx="993.2" cy="694.9" r="0.9" fill="#ddd"/>
<circle cx="986.5" cy="748.0" r="0.6" fill="#999"/>
<circle cx="987.3" cy="675.2" r="1.1" fill="#777"/>
<circle cx="994.4" cy="712.9" r="1.3" fill="#bbb"/>
<circle cx="980.9" cy="706.4" r="0.6" fill="#777"/>
<circle cx="983.8" cy="666.3" r="0.6" fill="#ddd"/>
<circle cx="990.2" cy="739.5" r="1.1" fill="#999"/>
<circle cx="982.9" cy="705.3" r="1.3" fill="#999"/>
<circle cx="997.1" cy="755.6" r="0.6" fill="#bbb"/>
<circle cx="984.6" cy="722.8" r="0.9" fill="#bbb"/>
<circle cx="996.8" cy="679.8" r="0.8" fill="#999"/>
<circle cx="983.2" cy="674.4" r="1.3" fill="#999"/>
<circle cx="985.5" cy="702.8" r="0.8" fill="#999"/>
<circle cx="994.4" cy="668.3" r="1.1" fill="#777"/>
<circle cx="979.3" cy="712.0" r="0.8" fill="#ddd"/>
<circle cx="1001.6" cy="661.2" r="0.9" fill="#999"/>
<circle cx="979.8" cy="678.7" r="1.3" fill="#999"/>
<circle cx="1002.1" cy="700.1" r="0.8" fill="#ddd"/>
<circle cx="993.1" cy="747.2" r="0.6" fill="#777"/>
<circle cx="994.0" cy="739.5" r="0.9" fill="#999"/>
<circle cx="977.5" cy="696.3" r="0.6" fill="#999"/>
<circle cx="1004.0" cy="661.0" r="0.8" fill="#777"/>
<circle cx="999.0" cy="704.4" r="0.9" fill="#999"/>
<circle cx="993.6" cy="665.6" r="0.6" fill="#ddd"/>
<circle cx="991.6" cy="663.9" r="0.6" fill="#ddd"/>
<circle cx="994.8" cy="674.6" r="1.3" fill="#777"/>
<circle cx="994.5" cy="703.0" r="0.9" fill="#ddd"/>
<circle cx="1003.7" cy="734.6" r="1.1" fill="#777"/>
<circle cx="985.1" cy="722.8" r="0.9" fill="#ddd"/>
<circle cx="988.0" cy="757.6" r="0.9" fill="#999"/>
<rect x="697" y="752.5" width="79" height="23.0" fill="#000" stroke="#fff" stroke-width="2"/>
<circle cx="728.3" cy="762.2" r="0.6" fill="#ddd"/>
<circle cx="766.6" cy="762.6" r="0.6" fill="#ddd"/>
<circle cx="742.3" cy="761.4" r="0.8" fill="#999"/>
<circle cx="700.1" cy="765.0" r="1.1" fill="#777"/>
<circle cx="742.0" cy="772.1" r="1.3" fill="#999"/>
<circle cx="709.9" cy="759.9" r="1.3" fill="#999"/>
<circle cx="768.4" cy="756.6" r="1.1" fill="#999"/>
<circle cx="721.6" cy="770.4" r="0.6" fill="#ddd"/>
<circle cx="722.6" cy="766.0" r="1.1" fill="#777"/>
<circle cx="766.8" cy="766.3" r="0.8" fill="#999"/>
<circle cx="745.6" cy="766.2" r="0.8" fill="#ddd"/>
<circle cx="712.7" cy="758.6" r="1.1" fill="#999"/>
<circle cx="727.8" cy="756.8" r="0.8" fill="#999"/>
<circle cx="702.1" cy="765.2" r="0.6" fill="#bbb"/>
<circle cx="707.8" cy="765.9" r="1.3" fill="#bbb"/>
<circle cx="747.7" cy="760.4" r="0.8" fill="#ddd"/>
<circle cx="728.2" cy="761.5" r="1.3" fill="#ddd"/>
<circle cx="712.4" cy="754.6" r="1.1" fill="#ddd"/>
<circle cx="716.6" cy="769.0" r="1.1" fill="#999"/>
<circle cx="759.8" cy="762.1" r="0.6" fill="#999"/>
<circle cx="725.9" cy="761.4" r="1.1" fill="#777"/>
<rect x="776" y="752.8" width="198.5" height="23.200000000000045" fill="url(#hatchB)" stroke="#fff" stroke-width="2"/>
<rect x="421" y="501" width="176.5" height="12" fill="url(#xh)" stroke="#fff" stroke-width="2"/>
<rect x="586" y="513" width="11.5" height="66" fill="url(#xh)" stroke="#fff" stroke-width="2"/>
<rect x="586" y="656" width="11.5" height="111" fill="url(#xh)" stroke="#fff" stroke-width="2"/>
<rect x="421" y="767" width="176" height="9" fill="url(#hatch)" stroke="#fff" stroke-width="2"/>
<rect x="702.8" y="625.6" width="70.0" height="11.899999999999977" fill="url(#xh)" stroke="#fff" stroke-width="2"/>
<rect x="761.2" y="637.5" width="11.599999999999909" height="115.5" fill="url(#xh)" stroke="#fff" stroke-width="2"/>
<circle cx="574.25" cy="98" r="16.8" stroke="#fff" stroke-width="2.4" fill="#000" />
<path transform="translate(574.25,98)" d="M1.7,-4.6 L-2.6,2.7 H2.8 M1.7,0.3 L0.2,5.5" stroke="#f2f2f2" stroke-width="1.6" fill="none" stroke-linecap="round" stroke-linejoin="round"/>
<circle cx="610.5" cy="358" r="16.8" stroke="#fff" stroke-width="2.4" fill="#000" />
<path transform="translate(610.5,358)" d="M-1.2,-4.5 H3.9 L0.3,-0.6 Q3,-0.4 2.6,2.5 Q2.2,5.4 -0.5,5.3 H-3.4" stroke="#f2f2f2" stroke-width="1.6" fill="none" stroke-linecap="round" stroke-linejoin="round"/>
<circle cx="547" cy="620" r="16.8" stroke="#fff" stroke-width="2.4" fill="#000" />
<path transform="translate(547,620)" d="M-1.4,-2.6 Q0,-4.6 2,-4.4 Q4,-4 3.6,-2.4 L-2.6,5.1 H1.8" stroke="#f2f2f2" stroke-width="1.6" fill="none" stroke-linecap="round" stroke-linejoin="round"/>
<circle cx="655" cy="695.5" r="16.8" stroke="#fff" stroke-width="2.4" fill="#000" />
<path transform="translate(655,695.5)" d="M-1.6,-2.3 L2.3,-5.3 L-1.3,5.0" stroke="#f2f2f2" stroke-width="1.6" fill="none" stroke-linecap="round" stroke-linejoin="round"/>
<circle cx="727" cy="879.25" r="16.8" stroke="#fff" stroke-width="2.4" fill="#000" />
<path transform="translate(727,879.25)" d="M3.7,-4.7 H-0.7 L-1.4,-0.1 Q2.5,-0.5 2.3,2.9 Q2,5.3 0,5.3 H-3.6" stroke="#f2f2f2" stroke-width="1.6" fill="none" stroke-linecap="round" stroke-linejoin="round"/>
<circle cx="438" cy="406.5" r="2.5" fill="#fff"/>
<line x1="269" y1="406.5" x2="438" y2="406.5" stroke="#ccc" stroke-width="1" />
<text x="268.5" y="384.6" font-size="17.5" textLength="100" font-family="Liberation Sans, sans-serif" fill="#f4f4f4" lengthAdjust="spacingAndGlyphs">Хранение под</text>
<text x="268.5" y="404.2" font-size="17.5" textLength="75.5" font-family="Liberation Sans, sans-serif" fill="#f4f4f4" lengthAdjust="spacingAndGlyphs">лестницей</text>
<circle cx="955" cy="522.5" r="2.5" fill="#fff"/>
<line x1="955" y1="522.5" x2="1134" y2="522.5" stroke="#ccc" stroke-width="1" />
<text x="1024.5" y="518.8" font-size="16.5" textLength="110.5" font-family="Liberation Sans, sans-serif" fill="#f4f4f4" lengthAdjust="spacingAndGlyphs">Барная стойка</text>
</svg></body></html>
